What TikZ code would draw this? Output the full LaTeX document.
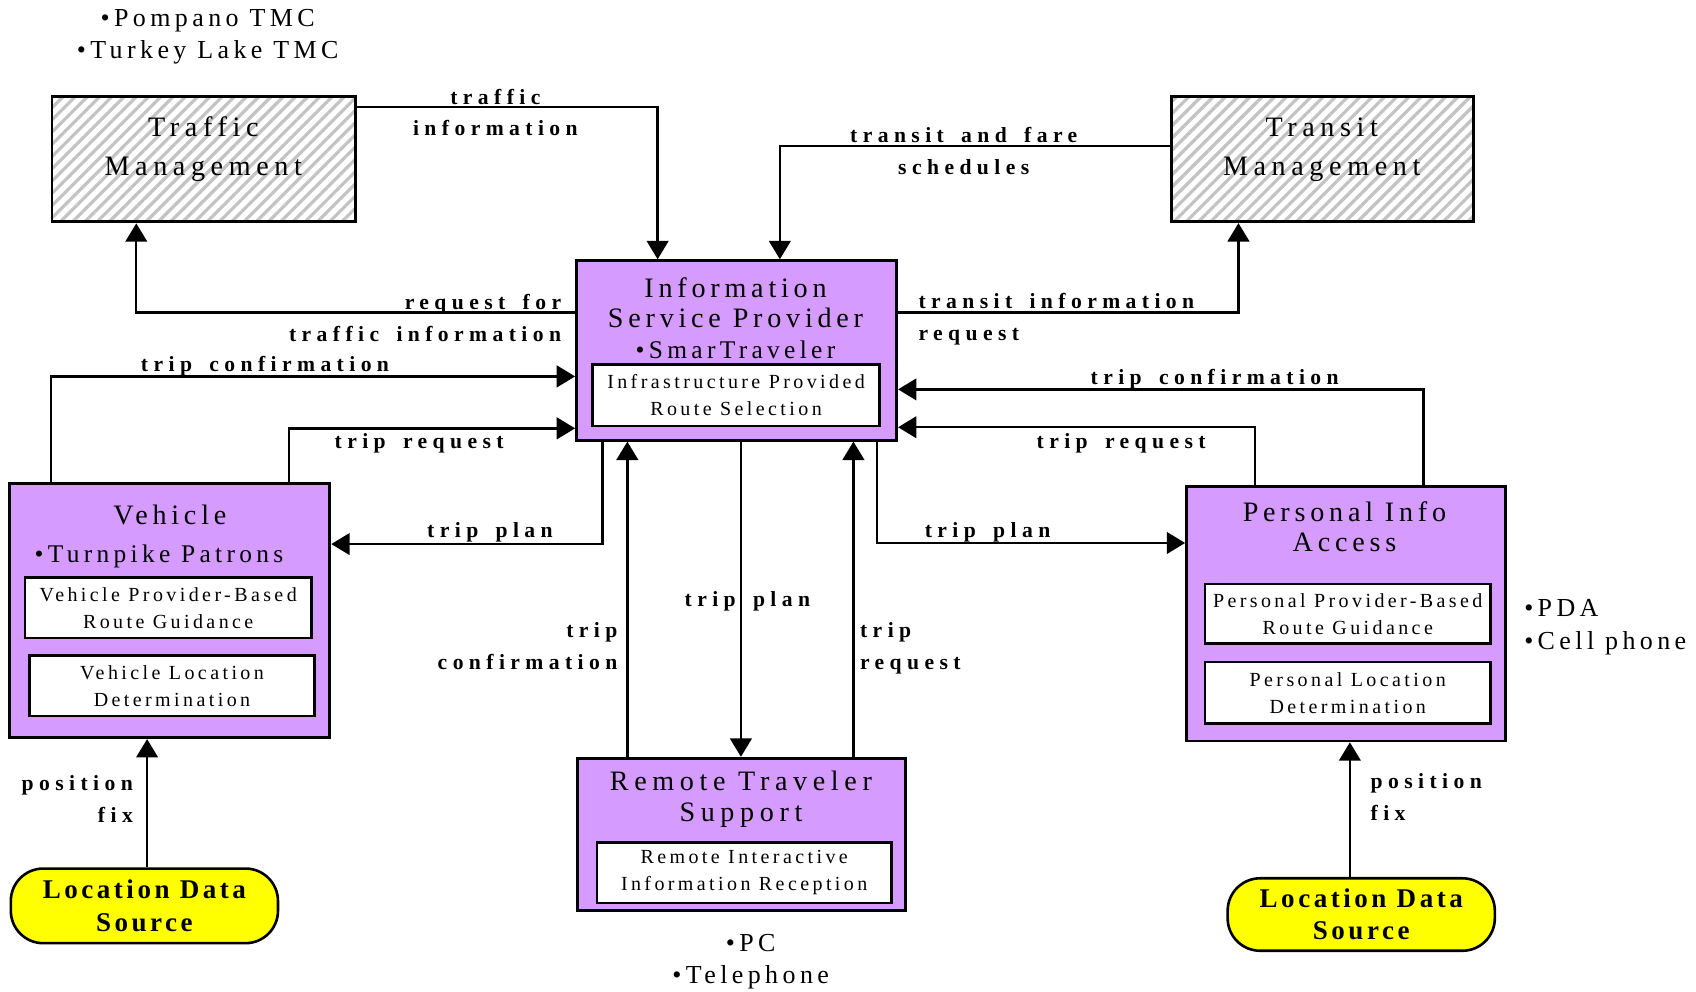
\documentclass[tikz,border=0pt]{standalone}
\usepackage{fontspec}
\setmainfont{Liberation Serif}
\newfontfamily\spacedrm[LetterSpace=17]{Liberation Serif}
\newfontfamily\widerm[LetterSpace=20]{Liberation Serif}
\newfontfamily\spacedlbl[LetterSpace=25,WordSpace=1.6]{Liberation Serif}
\newfontfamily\spacedsrc[LetterSpace=13]{Liberation Serif}
\usetikzlibrary{arrows.meta,patterns.meta}

\definecolor{unitfill}{RGB}{213,155,255}
\definecolor{srcyellow}{RGB}{255,255,0}
\definecolor{hatchgray}{RGB}{195,195,195}

\newcommand\ttlfont{\spacedrm\fontsize{26}{28}\selectfont}
\newcommand\bulletfont{\spacedrm\fontsize{23.5}{28}\selectfont}
\newcommand\mgmtfont{\widerm\fontsize{26}{36}\selectfont}
\newcommand\notefont{\spacedrm\fontsize{24}{30}\selectfont}
\newcommand\funcfont{\spacedrm\fontsize{18.5}{25}\selectfont}
\newcommand\lblfont{\spacedlbl\bfseries\fontsize{20}{29.5}\selectfont}
\newcommand\srcfont{\spacedsrc\bfseries\fontsize{25}{30}\selectfont}

\tikzset{
  conn/.style={line width=2.2pt, -{Triangle[width=20pt,length=17pt]}},
  unit/.style={draw, line width=2.6pt, fill=unitfill, inner sep=0pt},
  mgmt/.style={draw, line width=2.6pt, inner sep=0pt,
    pattern={Lines[angle=45,distance=8pt,line width=3pt]}, pattern color=hatchgray},
  func/.style={draw, line width=2.4pt, fill=white, align=center, inner sep=0pt, font=\funcfont},
  src/.style={draw, line width=2.4pt, fill=srcyellow, rounded corners=30pt,
    align=center, inner sep=0pt, font=\srcfont},
  ttl/.style={align=center, inner sep=0pt, font=\ttlfont},
  mttl/.style={align=center, inner sep=0pt, font=\mgmtfont},
  note/.style={align=center, inner sep=0pt, font=\notefont},
  lbl/.style={align=center, inner sep=0pt, font=\lblfont},
}

\begin{document}
\begin{tikzpicture}[x=1pt,y=-1pt]
\useasboundingbox (0,0) rectangle (1568,917);

% ---- management centres ----
\node[mgmt, minimum width=281pt, minimum height=116pt] (tm) at (188.5,147) {};
\node[mttl] (tmt) at (188,138) {Traffic\\M\kern5pt anagement};
\node[mgmt, minimum width=279pt, minimum height=116pt] (trm) at (1222.5,147) {};
\node[mttl] (trmt) at (1222,138) {Transit\\M\kern5pt anagement};
\node[note] (tmnote) at (192,34) {•Pompano TMC\\•Turkey Lake TMC};

% ---- information service provider ----
\node[unit, minimum width=296pt, minimum height=166pt] (isp) at (681,324) {};
\node[ttl] (ispt) at (680,294) {Information\\Service Provider\\{\bulletfont •SmarTraveler}};
\node[func, minimum width=265pt, minimum height=57pt] (ispf) at (680.5,365.5) {Infrastructure Provided\\Route Selection};

% ---- vehicle ----
\node[unit, minimum width=296pt, minimum height=235pt] (veh) at (157,564.5) {};
\node[ttl] (veht) at (157,476) {Vehicle};
\node[ttl, font=\bulletfont] (vehn) at (147,514) {•Turnpike Patrons};
\node[func, minimum width=265pt, minimum height=56pt] (vehf1) at (155.5,562) {Vehicle Provider-Based\\Route Guidance};
\node[func, minimum width=264pt, minimum height=56pt] (vehf2) at (159,634) {Vehicle Location\\Determination};

% ---- personal information access ----
\node[unit, minimum width=295pt, minimum height=235pt] (pia) at (1244.5,567.5) {};
\node[ttl] (piat) at (1243,487) {Personal Info\\Access};
\node[func, minimum width=264pt, minimum height=55pt] (piaf1) at (1246,567.5) {Personal Provider-Based\\Route Guidance};
\node[func, minimum width=264pt, minimum height=57pt] (piaf2) at (1246,640.5) {Personal Location\\Determination};
\node[note, align=left, anchor=west] (pianote) at (1409,580) {•PDA\\•Cell phone};

% ---- remote traveler support ----
\node[unit, minimum width=303pt, minimum height=141pt] (rts) at (685.5,771.5) {};
\node[ttl, font=\widerm\fontsize{26}{28.5}\selectfont] (rtst) at (685,739) {Remote Traveler\\Support};
\node[func, minimum width=272pt, minimum height=56pt] (rtsf) at (688,807) {Remote Interactive\\Information Reception};
\node[note] (rtsnote) at (694,889) {•PC\\•Telephone};

% ---- location data sources ----
\node[src, minimum width=247pt, minimum height=69pt] (lds1) at (133.5,837.5) {Location Data\\Source};
\node[src, minimum width=247pt, minimum height=67pt] (lds2) at (1258.5,845.5) {Location Data\\Source};

% ---- flows between management centres and the ISP ----
\draw[conn] (tm.east |- 0,99) -| (isp.north -| 608,0);
\node[lbl] (l1) at (458,104) {traffic\\information};
\draw[conn] (trm.west |- 0,135) -| (isp.north -| 721,0);
\node[lbl] (l2) at (891,140) {transit and fare\\schedules};
\draw[conn] (isp.west |- 0,289) -| (tm.south -| 126,0);
\node[lbl, align=right, anchor=east] (l3) at (519,294) {request for\\traffic information};
\draw[conn] (isp.east |- 0,289) -| (trm.south -| 1145,0);
\node[lbl, align=left, anchor=west] (l4) at (849,295) {transit information\\request};

% ---- vehicle flows ----
\draw[conn] (veh.north -| 47,0) |- (isp.west |- 0,348);
\node[lbl] (l5) at (245,339) {trip confirmation};
\draw[conn] (veh.north -| 267,0) |- (isp.west |- 0,396);
\node[lbl] (l6) at (387.5,410) {trip request};
\draw[conn] (isp.south -| 557,0) |- (veh.east |- 0,503);
\node[lbl] (l7) at (453,492) {trip plan};

% ---- personal access flows ----
\draw[conn] (pia.north -| 1316,0) |- (isp.east |- 0,360);
\node[lbl] (l8) at (1123,351) {trip confirmation};
\draw[conn] (pia.north -| 1160,0) |- (isp.east |- 0,395);
\node[lbl] (l9) at (1036.5,410) {trip request};
\draw[conn] (isp.south -| 811,0) |- (pia.west |- 0,502);
\node[lbl] (l10) at (913,492) {trip plan};

% ---- remote traveler flows ----
\draw[conn] (rts.north -| 580,0) -- (isp.south -| 580,0);
\node[lbl, align=right, anchor=east] (l11) at (571,597) {trip\\confirmation};
\draw[conn] (isp.south -| 685,0) -- (rts.north -| 685,0);
\node[lbl] (l12) at (691,556) {trip plan};
\draw[conn] (rts.north -| 789,0) -- (isp.south -| 789,0);
\node[lbl, align=left, anchor=west] (l13) at (795,599) {trip\\request};

% ---- position fixes ----
\draw[conn] (lds1.north -| 136,0) -- (veh.south -| 136,0);
\node[lbl, align=right, anchor=east] (l14) at (123,739) {position\\fix};
\draw[conn] (lds2.north -| 1248,0) -- (pia.south -| 1248,0);
\node[lbl, align=left, anchor=west] (l15) at (1267,737) {position\\fix};
\end{tikzpicture}
\end{document}
